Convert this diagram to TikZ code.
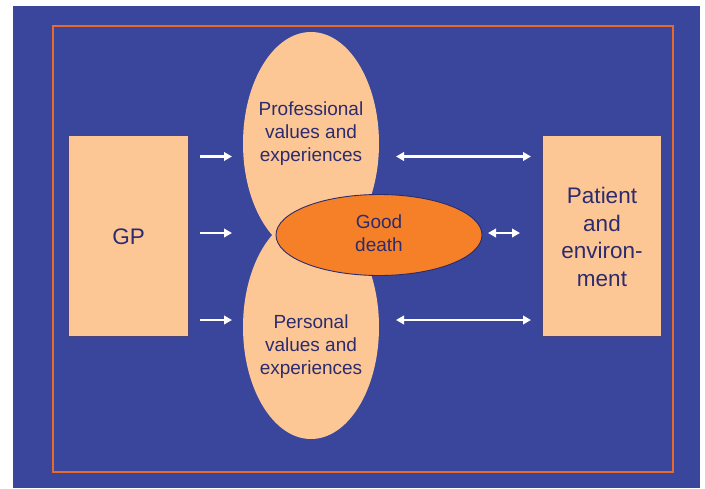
\documentclass[tikz,border=0pt]{standalone}
\usepackage{fontspec}
\setmainfont{Liberation Sans}
\usetikzlibrary{shapes.geometric,arrows.meta}
\definecolor{bgblue}{HTML}{39469B}
\definecolor{peach}{HTML}{FDC795}
\definecolor{frameorange}{HTML}{E8692C}
\definecolor{deathorange}{HTML}{F58027}
\definecolor{navytext}{HTML}{2C2B6E}
\definecolor{boxedge}{HTML}{4A4379}
\tikzset{
  box/.style={rectangle,fill=peach,draw=boxedge,line width=0.8pt,inner sep=0pt},
  petal/.style={ellipse,fill=peach,draw=none,inner sep=0pt},
  core/.style={ellipse,fill=deathorange,draw=navytext,line width=0.9pt,inner sep=0pt,minimum width=206pt,minimum height=81pt},
  lbl/.style={text=navytext,align=center,font=\fontsize{19}{23}\selectfont},
  biglbl/.style={text=navytext,align=center,font=\fontsize{22.5}{27.5}\selectfont},
  flow/.style={white,line width=2.4pt,-{Triangle[length=8pt,width=8.5pt]}},
  both/.style={white,line width=2.4pt,{Triangle[length=8pt,width=8.5pt]}-{Triangle[length=8pt,width=8.5pt]}}
}
\begin{document}
\begin{tikzpicture}[x=1pt,y=-1pt]
\useasboundingbox (0,0) rectangle (705,488);
\fill[bgblue] (13,6) rectangle (700,488);
\draw[frameorange,line width=1.8pt] (53,26) rectangle (673,472);
% boxes
\node[box,minimum width=120pt,minimum height=201pt] (gp) at (128.7,235.5) {};
\node[biglbl] (gpt) at (128.7,237) {GP};
\node[box,minimum width=119.5pt,minimum height=201pt] (pat) at (602,235.5) {};
\node[biglbl] (patt) at (602,237) {Patient\\and\\environ-\\ment};
% petals
\node[petal,minimum width=136pt,minimum height=223pt] (prof) at (311,143.5) {};
\node[petal,minimum width=136pt,minimum height=224pt] (pers) at (311,327) {};
\node[lbl] (proft) at (311,134) {Professional\\values and\\experiences};
\node[lbl] (perst) at (311,346.5) {Personal\\values and\\experiences};
% good death
\node[core] (gd) at (379,235) {};
\node[lbl] (gdt) at (379,233) {Good\\death};
% arrow ends
\coordinate (a1s) at (200,156.5); \coordinate (a1e) at (232,156.5);
\coordinate (a2s) at (200,233);   \coordinate (a2e) at (232,233);
\coordinate (a3s) at (200,320);   \coordinate (a3e) at (232,320);
\coordinate (b1s) at (396,156.5); \coordinate (b1e) at (531,156.5);
\coordinate (b2s) at (488,233);   \coordinate (b2e) at (520,233);
\coordinate (b3s) at (396,320);   \coordinate (b3e) at (531,320);
\draw[flow] (a1s) -- (a1e);
\draw[flow] (a2s) -- (a2e);
\draw[flow] (a3s) -- (a3e);
\draw[both] (b1s) -- (b1e);
\draw[both] (b2s) -- (b2e);
\draw[both] (b3s) -- (b3e);
\end{tikzpicture}
\end{document}
